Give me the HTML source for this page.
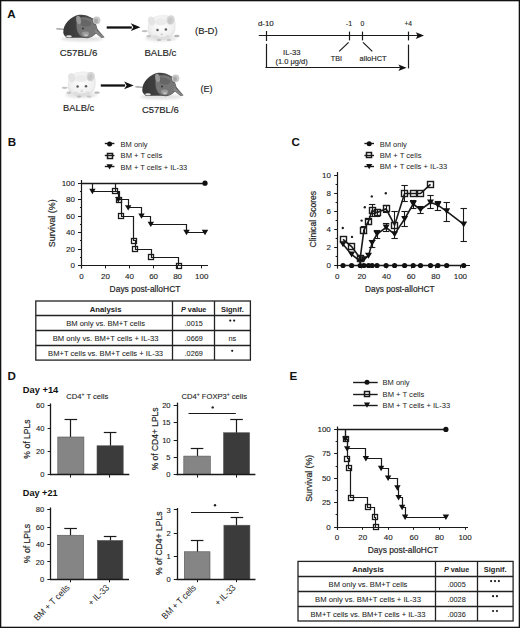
<!DOCTYPE html>
<html><head><meta charset="utf-8"><style>
html,body{margin:0;padding:0;background:#fff;overflow:hidden;}
svg{display:block;font-family:"Liberation Sans", sans-serif;}
text{stroke:#2a2a2a;stroke-width:0px;}
.at{stroke-width:0.2px;}
.tk{stroke-width:0.12px;}
</style></head><body>
<svg width="520" height="628" viewBox="0 0 520 628">
<rect width="520" height="628" fill="#fff"/>
<rect x="0.65" y="0.65" width="518.7" height="626.7" fill="none" stroke="#111" stroke-width="1.3"/>
<text x="7.30" y="18.20" font-size="11.6" fill="#111" font-weight="bold">A</text>
<text x="7.80" y="145.90" font-size="11.6" fill="#111" font-weight="bold">B</text>
<text x="291.50" y="146.30" font-size="11.6" fill="#111" font-weight="bold">C</text>
<text x="7.60" y="379.90" font-size="11.6" fill="#111" font-weight="bold">D</text>
<text x="289.60" y="380.30" font-size="11.6" fill="#111" font-weight="bold">E</text>
<defs>
<filter id="blur1" x="-20%" y="-20%" width="140%" height="140%"><feGaussianBlur stdDeviation="0.5"/></filter>
<filter id="blur2" x="-30%" y="-30%" width="160%" height="160%"><feGaussianBlur stdDeviation="1.2"/></filter>
<linearGradient id="dkb" x1="0" y1="0" x2="1" y2="0"><stop offset="0" stop-color="#353535"/><stop offset="0.45" stop-color="#444"/><stop offset="1" stop-color="#5e5e5e"/></linearGradient>
<radialGradient id="dk" cx="0.45" cy="0.35" r="0.7"><stop offset="0" stop-color="#6a6a6a"/><stop offset="0.6" stop-color="#444"/><stop offset="1" stop-color="#2e2e2e"/></radialGradient>
<radialGradient id="dkh" cx="0.5" cy="0.4" r="0.6"><stop offset="0" stop-color="#7a7a7a"/><stop offset="1" stop-color="#4a4a4a"/></radialGradient>
<radialGradient id="wt" cx="0.5" cy="0.45" r="0.6"><stop offset="0" stop-color="#fdfdfd"/><stop offset="0.7" stop-color="#f0f0f0"/><stop offset="1" stop-color="#dcdcdc"/></radialGradient>
<g id="darkmouse">
  <ellipse cx="26" cy="25" rx="21" ry="2.4" fill="#e2e2e2" filter="url(#blur2)"/>
  <path d="M0.3,14.6 L9,15.6" stroke="#b0b0b0" stroke-width="1.9" filter="url(#blur1)"/>
  <g filter="url(#blur1)">
  <path d="M7.3,19 C7,14 9,10 12,7 C15,4 19,1.5 23,0.8 C28,0.3 32,1.5 35,3.5 L38.5,6.5 C39.5,9 40.5,12 41.6,15.2 L48.5,23.3 L45.5,24 L40,19.5 C37,22.5 34,24 31,24.2 C27,23.8 22,23.5 17,23.8 L12,24 C10,23.3 8.5,22 7.8,20.5 Z" fill="url(#dkb)"/>
  <path d="M21,4.5 C26,2.5 31,2.8 35,5 C38,7.5 40,10.5 41,14 C41,18 38.5,21 35,22.8 C32,24 28,23.8 25,22.2 C22,20 20.5,16 20.5,12 C20.5,8.5 20.5,6 21,4.5 Z" fill="#767676"/>
  <path d="M23,5.5 C27,4.5 32,5.5 35.5,8.5 C35.5,11.5 33,12.5 29.5,12.5 C26,12.5 23.5,10.5 23,5.5 Z" fill="#666"/>
  <ellipse cx="22.6" cy="6" rx="2.3" ry="4.3" fill="#999" transform="rotate(-12 22.6 6)"/>
  <path d="M34,3.5 L39,5 L40.5,10 L38,11 Z" fill="#5e5e5e"/>
  <ellipse cx="40.6" cy="6.3" rx="3.8" ry="3.9" fill="#c8c8c8"/>
  <ellipse cx="40.0" cy="7.0" rx="2.0" ry="2.4" fill="#a8a8a8"/>
  <path d="M39.5,15 L48.5,23.3 L45.5,23.8 L38.5,18 Z" fill="#858585"/>
  <ellipse cx="29.5" cy="19.8" rx="3.6" ry="2.4" fill="#9a9a9a"/>
  <ellipse cx="30" cy="21.2" rx="1.8" ry="1.2" fill="#bdbdbd"/>
  <ellipse cx="27" cy="14.5" rx="1.1" ry="0.9" fill="#3a3a3a"/>
  <path d="M8.5,20.5 L15,22 L11,24.2 Z" fill="#4a4a4a"/>
  <ellipse cx="13" cy="22.4" rx="2.8" ry="1.1" fill="#e4e4e4"/>
  </g>
</g>>>
<g id="whitemouse">
  <ellipse cx="19" cy="24.5" rx="16" ry="3" fill="#e6e6e6" filter="url(#blur2)"/>
  <g filter="url(#blur1)">
  <path d="M5.8,17 C5,10 8,4 14,2 C20,0.2 27,0.5 31,4 C34,7 34,12 33,17 C32,22 27,25.5 19,26 C11,26 6.5,22.5 5.8,17 Z" fill="url(#wt)"/>
  <ellipse cx="9.5" cy="7" rx="3.6" ry="4.6" fill="#e4e4e4" transform="rotate(-15 9.5 7)"/>
  <ellipse cx="28.6" cy="6" rx="4.1" ry="4.8" fill="#d6d6d6" transform="rotate(15 28.6 6)"/>
  <ellipse cx="28.2" cy="6.6" rx="2.4" ry="3.2" fill="#c8c8c8" transform="rotate(15 28.2 6.6)"/>
  <ellipse cx="19" cy="8" rx="6" ry="3.5" fill="#ebebeb"/>
  <ellipse cx="19.5" cy="23" rx="9" ry="3" fill="#dedede"/>
  <ellipse cx="19.5" cy="20.5" rx="5" ry="2.2" fill="#f2f2f2"/>
  <circle cx="15.5" cy="15.9" r="1.25" fill="#5a5a5a"/>
  <circle cx="23.9" cy="15.6" r="1.25" fill="#5a5a5a"/>
  <ellipse cx="19.7" cy="20.5" rx="1.3" ry="0.9" fill="#cfcfcf"/>
  <ellipse cx="2.6" cy="17.2" rx="3" ry="1.1" fill="#c2c2c2"/>
  <ellipse cx="34.8" cy="22" rx="2.8" ry="1.2" fill="#b6b6b6"/>
  <ellipse cx="6.8" cy="22.2" rx="2.4" ry="1.2" fill="#c4c4c4"/>
  <ellipse cx="17" cy="26" rx="2.4" ry="1.1" fill="#bdbdbd"/>
  <ellipse cx="27" cy="26" rx="2.4" ry="1.1" fill="#c6c6c6"/>
  </g>
</g>
</defs>
<use href="#darkmouse" x="56" y="14"/>
<use href="#whitemouse" x="142" y="14"/>
<use href="#whitemouse" x="62.1" y="70.6"/>
<use href="#darkmouse" x="135" y="72"/>
<line x1="106.70" y1="27.50" x2="131.80" y2="27.50" stroke="#111" stroke-width="2.3"/>
<path d="M130.80,23.30 L140.40,27.20 L130.80,31.10 L133.30,27.20 Z" fill="#111"/>
<line x1="100.80" y1="85.50" x2="125.10" y2="85.50" stroke="#111" stroke-width="2.3"/>
<path d="M124.10,81.50 L133.70,85.40 L124.10,89.30 L126.60,85.40 Z" fill="#111"/>
<text x="59.80" y="56.30" font-size="8.8" fill="#222" textLength="37.5" lengthAdjust="spacingAndGlyphs" style="stroke-width:0.14px">C57BL/6</text>
<text x="144.40" y="56.30" font-size="8.8" fill="#222" textLength="32" lengthAdjust="spacingAndGlyphs" style="stroke-width:0.14px">BALB/c</text>
<text x="195.00" y="34.20" font-size="8.8" fill="#222" textLength="22.6" lengthAdjust="spacingAndGlyphs" style="stroke-width:0.14px">(B-D)</text>
<text x="63.00" y="111.30" font-size="8.8" fill="#222" textLength="31.2" lengthAdjust="spacingAndGlyphs" style="stroke-width:0.14px">BALB/c</text>
<text x="141.90" y="113.10" font-size="8.8" fill="#222" textLength="36.9" lengthAdjust="spacingAndGlyphs" style="stroke-width:0.14px">C57BL/6</text>
<text x="200.40" y="92.00" font-size="8.8" fill="#222" textLength="12.3" lengthAdjust="spacingAndGlyphs" style="stroke-width:0.14px">(E)</text>
<line x1="258.80" y1="35.50" x2="418.00" y2="35.50" stroke="#1a1a1a" stroke-width="1.2"/>
<path d="M415.8,32.2 L424.0,35.6 L415.8,39.0 L417.6,35.6 Z" fill="#111"/>
<line x1="266.50" y1="31.00" x2="266.50" y2="41.00" stroke="#1a1a1a" stroke-width="1.2"/>
<line x1="349.50" y1="31.60" x2="349.50" y2="40.40" stroke="#1a1a1a" stroke-width="1.2"/>
<line x1="362.50" y1="31.60" x2="362.50" y2="40.40" stroke="#1a1a1a" stroke-width="1.2"/>
<line x1="408.50" y1="31.60" x2="408.50" y2="40.40" stroke="#1a1a1a" stroke-width="1.2"/>
<line x1="266.50" y1="43.80" x2="266.50" y2="67.90" stroke="#1a1a1a" stroke-width="1.2"/>
<line x1="265.40" y1="67.50" x2="400.00" y2="67.50" stroke="#1a1a1a" stroke-width="1.2"/>
<path d="M398.4,64.5 L406.6,67.7 L398.4,70.9 L400.2,67.7 Z" fill="#111"/>
<line x1="408.50" y1="44.60" x2="408.50" y2="68.40" stroke="#1a1a1a" stroke-width="1.2"/>
<line x1="348.60" y1="42.40" x2="339.20" y2="51.40" stroke="#1a1a1a" stroke-width="1.2"/>
<line x1="363.00" y1="42.40" x2="372.30" y2="51.40" stroke="#1a1a1a" stroke-width="1.2"/>
<text x="257.90" y="26.20" font-size="7.6" fill="#222" textLength="15.9" lengthAdjust="spacingAndGlyphs" style="stroke-width:0.14px">d-10</text>
<text x="345.80" y="26.20" font-size="7.6" fill="#222" textLength="6.4" lengthAdjust="spacingAndGlyphs" style="stroke-width:0.14px">-1</text>
<text x="360.60" y="26.20" font-size="7.6" fill="#222" textLength="3.8" lengthAdjust="spacingAndGlyphs" style="stroke-width:0.14px">0</text>
<text x="404.40" y="26.20" font-size="7.6" fill="#222" textLength="7.6" lengthAdjust="spacingAndGlyphs" style="stroke-width:0.14px">+4</text>
<text x="283.10" y="55.10" font-size="7.6" fill="#222" textLength="17.4" lengthAdjust="spacingAndGlyphs" style="stroke-width:0.14px">IL-33</text>
<text x="275.40" y="63.50" font-size="7.6" fill="#222" textLength="32.3" lengthAdjust="spacingAndGlyphs" style="stroke-width:0.14px">(1.0 μg/d)</text>
<text x="330.80" y="61.20" font-size="7.6" fill="#222" textLength="11.2" lengthAdjust="spacingAndGlyphs" style="stroke-width:0.14px">TBI</text>
<text x="359.60" y="61.20" font-size="7.6" fill="#222" textLength="27.1" lengthAdjust="spacingAndGlyphs" style="stroke-width:0.14px">alloHCT</text>
<line x1="104.80" y1="143.50" x2="114.40" y2="143.50" stroke="#1a1a1a" stroke-width="1.4"/>
<circle cx="109.60" cy="143.90" r="2.5" fill="#111"/>
<text x="120.60" y="146.70" font-size="7.6" fill="#222" textLength="27.0" lengthAdjust="spacingAndGlyphs">BM only</text>
<line x1="104.80" y1="155.50" x2="114.40" y2="155.50" stroke="#1a1a1a" stroke-width="1.4"/>
<rect x="107.50" y="153.50" width="5.0" height="5.0" fill="none" stroke="#1a1a1a" stroke-width="1.5"/>
<text x="120.60" y="158.40" font-size="7.6" fill="#222" textLength="41.7" lengthAdjust="spacingAndGlyphs">BM + T cells</text>
<line x1="104.80" y1="166.50" x2="114.40" y2="166.50" stroke="#1a1a1a" stroke-width="1.4"/>
<path d="M106.50,164.27 L112.70,164.27 L109.60,169.53 Z" fill="#111"/>
<text x="120.60" y="169.70" font-size="7.6" fill="#222" textLength="66.7" lengthAdjust="spacingAndGlyphs">BM + T cells + IL-33</text>
<line x1="81.50" y1="180.00" x2="81.50" y2="268.40" stroke="#1a1a1a" stroke-width="1.2"/>
<line x1="80.90" y1="265.50" x2="208.00" y2="265.50" stroke="#1a1a1a" stroke-width="1.2"/>
<line x1="78.00" y1="265.50" x2="81.50" y2="265.50" stroke="#1a1a1a" stroke-width="1.0"/>
<line x1="80.00" y1="257.50" x2="81.50" y2="257.50" stroke="#1a1a1a" stroke-width="1.0"/>
<line x1="78.00" y1="249.50" x2="81.50" y2="249.50" stroke="#1a1a1a" stroke-width="1.0"/>
<line x1="80.00" y1="240.50" x2="81.50" y2="240.50" stroke="#1a1a1a" stroke-width="1.0"/>
<line x1="78.00" y1="232.50" x2="81.50" y2="232.50" stroke="#1a1a1a" stroke-width="1.0"/>
<line x1="80.00" y1="224.50" x2="81.50" y2="224.50" stroke="#1a1a1a" stroke-width="1.0"/>
<line x1="78.00" y1="216.50" x2="81.50" y2="216.50" stroke="#1a1a1a" stroke-width="1.0"/>
<line x1="80.00" y1="207.50" x2="81.50" y2="207.50" stroke="#1a1a1a" stroke-width="1.0"/>
<line x1="78.00" y1="199.50" x2="81.50" y2="199.50" stroke="#1a1a1a" stroke-width="1.0"/>
<line x1="80.00" y1="191.50" x2="81.50" y2="191.50" stroke="#1a1a1a" stroke-width="1.0"/>
<line x1="78.00" y1="183.50" x2="81.50" y2="183.50" stroke="#1a1a1a" stroke-width="1.0"/>
<line x1="81.50" y1="265.50" x2="81.50" y2="268.40" stroke="#1a1a1a" stroke-width="1.0"/>
<line x1="105.50" y1="265.50" x2="105.50" y2="268.40" stroke="#1a1a1a" stroke-width="1.0"/>
<line x1="129.50" y1="265.50" x2="129.50" y2="268.40" stroke="#1a1a1a" stroke-width="1.0"/>
<line x1="153.50" y1="265.50" x2="153.50" y2="268.40" stroke="#1a1a1a" stroke-width="1.0"/>
<line x1="177.50" y1="265.50" x2="177.50" y2="268.40" stroke="#1a1a1a" stroke-width="1.0"/>
<line x1="201.50" y1="265.50" x2="201.50" y2="268.40" stroke="#1a1a1a" stroke-width="1.0"/>
<text x="75.00" y="268.00" font-size="8.0" fill="#222" class="tk" text-anchor="end">0</text>
<text x="75.00" y="251.54" font-size="8.0" fill="#222" class="tk" text-anchor="end">20</text>
<text x="75.00" y="235.08" font-size="8.0" fill="#222" class="tk" text-anchor="end">40</text>
<text x="75.00" y="218.62" font-size="8.0" fill="#222" class="tk" text-anchor="end">60</text>
<text x="75.00" y="202.16" font-size="8.0" fill="#222" class="tk" text-anchor="end">80</text>
<text x="75.00" y="185.70" font-size="8.0" fill="#222" class="tk" text-anchor="end">100</text>
<text x="81.40" y="279.20" font-size="8.0" fill="#222" class="tk" text-anchor="middle">0</text>
<text x="105.46" y="279.20" font-size="8.0" fill="#222" class="tk" text-anchor="middle">20</text>
<text x="129.52" y="279.20" font-size="8.0" fill="#222" class="tk" text-anchor="middle">40</text>
<text x="153.58" y="279.20" font-size="8.0" fill="#222" class="tk" text-anchor="middle">60</text>
<text x="177.64" y="279.20" font-size="8.0" fill="#222" class="tk" text-anchor="middle">80</text>
<text x="201.70" y="279.20" font-size="8.0" fill="#222" class="tk" text-anchor="middle">100</text>
<text x="145.00" y="292.00" font-size="9.3" fill="#222" class="at" text-anchor="middle" textLength="70.8" lengthAdjust="spacingAndGlyphs">Days post-alloHCT</text>
<text x="54.70" y="223.30" font-size="9.3" fill="#222" class="at" text-anchor="middle" textLength="47.8" lengthAdjust="spacingAndGlyphs" transform="rotate(-90 54.70 223.30)">Survival (%)</text>
<path d="M81.5,183.50 L205.0,183.50" stroke="#1a1a1a" stroke-width="1.3" fill="none"/>
<circle cx="205.00" cy="183.20" r="2.6" fill="#111"/>
<path d="M81.50,183.50 L92.50,183.50 L92.50,191.50 L118.50,191.50 L118.50,199.50 L128.50,199.50 L128.50,207.50 L141.50,207.50 L141.50,216.50 L150.50,216.50 L150.50,224.50 L186.50,224.50 L186.50,232.50 L205.00,232.50" stroke="#1a1a1a" stroke-width="1.2" fill="none"/>
<path d="M81.50,183.50 L115.50,183.50 L115.50,191.50 L119.50,191.50 L119.50,199.50 L121.50,199.50 L121.50,216.50 L133.50,216.50 L133.50,240.50 L135.50,240.50 L135.50,249.50 L151.50,249.50 L151.50,257.50 L178.50,257.50 L178.50,265.50" stroke="#1a1a1a" stroke-width="1.2" fill="none"/>
<path d="M89.20,188.71 L95.60,188.71 L92.40,194.15 Z" fill="#111"/>
<path d="M115.10,196.94 L121.50,196.94 L118.30,202.38 Z" fill="#111"/>
<path d="M125.00,205.17 L131.40,205.17 L128.20,210.61 Z" fill="#111"/>
<path d="M138.30,213.40 L144.70,213.40 L141.50,218.84 Z" fill="#111"/>
<path d="M147.60,221.63 L154.00,221.63 L150.80,227.07 Z" fill="#111"/>
<path d="M183.30,229.86 L189.70,229.86 L186.50,235.30 Z" fill="#111"/>
<path d="M201.80,229.86 L208.20,229.86 L205.00,235.30 Z" fill="#111"/>
<rect x="112.50" y="188.50" width="5.0" height="5.0" fill="none" stroke="#1a1a1a" stroke-width="1.3"/>
<rect x="116.50" y="197.50" width="5.0" height="5.0" fill="none" stroke="#1a1a1a" stroke-width="1.3"/>
<rect x="118.50" y="213.50" width="5.0" height="5.0" fill="none" stroke="#1a1a1a" stroke-width="1.3"/>
<rect x="131.50" y="238.50" width="5.0" height="5.0" fill="none" stroke="#1a1a1a" stroke-width="1.3"/>
<rect x="132.50" y="246.50" width="5.0" height="5.0" fill="none" stroke="#1a1a1a" stroke-width="1.3"/>
<rect x="148.50" y="254.50" width="5.0" height="5.0" fill="none" stroke="#1a1a1a" stroke-width="1.3"/>
<rect x="176.50" y="263.50" width="5.0" height="5.0" fill="none" stroke="#1a1a1a" stroke-width="1.3"/>
<rect x="35.80" y="301.00" width="214.60" height="59.10" fill="none" stroke="#222" stroke-width="1.3"/>
<line x1="35.80" y1="315.50" x2="250.40" y2="315.50" stroke="#222" stroke-width="1.3"/>
<line x1="35.80" y1="330.50" x2="250.40" y2="330.50" stroke="#222" stroke-width="1.3"/>
<line x1="35.80" y1="345.50" x2="250.40" y2="345.50" stroke="#222" stroke-width="1.3"/>
<line x1="172.50" y1="301.00" x2="172.50" y2="360.10" stroke="#222" stroke-width="1.3"/>
<line x1="214.50" y1="301.00" x2="214.50" y2="360.10" stroke="#222" stroke-width="1.3"/>
<text x="105.60" y="311.80" font-size="7.4" fill="#222" text-anchor="middle" font-weight="bold" textLength="31.7" lengthAdjust="spacingAndGlyphs">Analysis</text>
<text x="193.70" y="311.80" font-size="7.4" text-anchor="middle" font-weight="bold" fill="#222" textLength="25.4" lengthAdjust="spacingAndGlyphs"><tspan font-style="italic">P</tspan> value</text>
<text x="232.40" y="311.80" font-size="7.4" fill="#222" text-anchor="middle" font-weight="bold" textLength="22.8" lengthAdjust="spacingAndGlyphs">Signif.</text>
<text x="105.60" y="326.10" font-size="7.4" fill="#222" text-anchor="middle" textLength="78.8" lengthAdjust="spacingAndGlyphs" style="stroke-width:0.06px">BM only vs. BM+T cells</text>
<text x="193.70" y="326.10" font-size="7.4" fill="#222" text-anchor="middle" textLength="18.2" lengthAdjust="spacingAndGlyphs" style="stroke-width:0.06px">.0015</text>
<circle cx="230.25" cy="320.60" r="1.1" fill="#1a1a1a"/>
<circle cx="234.15" cy="320.60" r="1.1" fill="#1a1a1a"/>
<text x="105.60" y="340.80" font-size="7.4" fill="#222" text-anchor="middle" textLength="105.8" lengthAdjust="spacingAndGlyphs" style="stroke-width:0.06px">BM only vs. BM+T cells + IL-33</text>
<text x="193.70" y="340.80" font-size="7.4" fill="#222" text-anchor="middle" textLength="18.2" lengthAdjust="spacingAndGlyphs" style="stroke-width:0.06px">.0669</text>
<text x="232.40" y="340.80" font-size="7.4" fill="#222" text-anchor="middle" style="stroke-width:0.06px">ns</text>
<text x="105.60" y="355.60" font-size="7.4" fill="#222" text-anchor="middle" textLength="115.0" lengthAdjust="spacingAndGlyphs" style="stroke-width:0.06px">BM+T cells vs. BM+T cells + IL-33</text>
<text x="193.70" y="355.60" font-size="7.4" fill="#222" text-anchor="middle" textLength="18.2" lengthAdjust="spacingAndGlyphs" style="stroke-width:0.06px">.0269</text>
<circle cx="232.20" cy="350.80" r="1.1" fill="#1a1a1a"/>
<line x1="364.40" y1="143.50" x2="374.00" y2="143.50" stroke="#1a1a1a" stroke-width="1.4"/>
<circle cx="369.20" cy="143.70" r="2.5" fill="#111"/>
<text x="379.80" y="146.50" font-size="7.6" fill="#222" textLength="27.0" lengthAdjust="spacingAndGlyphs">BM only</text>
<line x1="364.40" y1="155.50" x2="374.00" y2="155.50" stroke="#1a1a1a" stroke-width="1.4"/>
<rect x="366.50" y="152.50" width="5.0" height="5.0" fill="none" stroke="#1a1a1a" stroke-width="1.5"/>
<text x="379.80" y="158.10" font-size="7.6" fill="#222" textLength="41.7" lengthAdjust="spacingAndGlyphs">BM + T cells</text>
<line x1="364.40" y1="166.50" x2="374.00" y2="166.50" stroke="#1a1a1a" stroke-width="1.4"/>
<path d="M366.10,163.97 L372.30,163.97 L369.20,169.23 Z" fill="#111"/>
<text x="379.80" y="169.40" font-size="7.6" fill="#222" textLength="67.5" lengthAdjust="spacingAndGlyphs">BM + T cells + IL-33</text>
<line x1="337.50" y1="172.00" x2="337.50" y2="268.40" stroke="#1a1a1a" stroke-width="1.2"/>
<line x1="336.90" y1="265.50" x2="470.00" y2="265.50" stroke="#1a1a1a" stroke-width="1.2"/>
<line x1="334.20" y1="265.50" x2="337.50" y2="265.50" stroke="#1a1a1a" stroke-width="1.0"/>
<line x1="335.60" y1="256.50" x2="337.50" y2="256.50" stroke="#1a1a1a" stroke-width="1.0"/>
<line x1="334.20" y1="247.50" x2="337.50" y2="247.50" stroke="#1a1a1a" stroke-width="1.0"/>
<line x1="335.60" y1="238.50" x2="337.50" y2="238.50" stroke="#1a1a1a" stroke-width="1.0"/>
<line x1="334.20" y1="229.50" x2="337.50" y2="229.50" stroke="#1a1a1a" stroke-width="1.0"/>
<line x1="335.60" y1="220.50" x2="337.50" y2="220.50" stroke="#1a1a1a" stroke-width="1.0"/>
<line x1="334.20" y1="211.50" x2="337.50" y2="211.50" stroke="#1a1a1a" stroke-width="1.0"/>
<line x1="335.60" y1="202.50" x2="337.50" y2="202.50" stroke="#1a1a1a" stroke-width="1.0"/>
<line x1="334.20" y1="193.50" x2="337.50" y2="193.50" stroke="#1a1a1a" stroke-width="1.0"/>
<line x1="335.60" y1="184.50" x2="337.50" y2="184.50" stroke="#1a1a1a" stroke-width="1.0"/>
<line x1="334.20" y1="175.50" x2="337.50" y2="175.50" stroke="#1a1a1a" stroke-width="1.0"/>
<line x1="337.50" y1="265.50" x2="337.50" y2="268.40" stroke="#1a1a1a" stroke-width="1.0"/>
<line x1="361.50" y1="265.50" x2="361.50" y2="268.40" stroke="#1a1a1a" stroke-width="1.0"/>
<line x1="386.50" y1="265.50" x2="386.50" y2="268.40" stroke="#1a1a1a" stroke-width="1.0"/>
<line x1="411.50" y1="265.50" x2="411.50" y2="268.40" stroke="#1a1a1a" stroke-width="1.0"/>
<line x1="435.50" y1="265.50" x2="435.50" y2="268.40" stroke="#1a1a1a" stroke-width="1.0"/>
<line x1="460.50" y1="265.50" x2="460.50" y2="268.40" stroke="#1a1a1a" stroke-width="1.0"/>
<text x="331.00" y="268.00" font-size="8.0" fill="#222" class="tk" text-anchor="end">0</text>
<text x="331.00" y="249.96" font-size="8.0" fill="#222" class="tk" text-anchor="end">2</text>
<text x="331.00" y="231.92" font-size="8.0" fill="#222" class="tk" text-anchor="end">4</text>
<text x="331.00" y="213.88" font-size="8.0" fill="#222" class="tk" text-anchor="end">6</text>
<text x="331.00" y="195.84" font-size="8.0" fill="#222" class="tk" text-anchor="end">8</text>
<text x="331.00" y="177.80" font-size="8.0" fill="#222" class="tk" text-anchor="end">10</text>
<text x="337.20" y="279.20" font-size="8.0" fill="#222" class="tk" text-anchor="middle">0</text>
<text x="361.84" y="279.20" font-size="8.0" fill="#222" class="tk" text-anchor="middle">20</text>
<text x="386.48" y="279.20" font-size="8.0" fill="#222" class="tk" text-anchor="middle">40</text>
<text x="411.12" y="279.20" font-size="8.0" fill="#222" class="tk" text-anchor="middle">60</text>
<text x="435.76" y="279.20" font-size="8.0" fill="#222" class="tk" text-anchor="middle">80</text>
<text x="460.40" y="279.20" font-size="8.0" fill="#222" class="tk" text-anchor="middle">100</text>
<text x="399.80" y="292.00" font-size="9.3" fill="#222" class="at" text-anchor="middle" textLength="69.4" lengthAdjust="spacingAndGlyphs">Days post-alloHCT</text>
<text x="315.60" y="219.20" font-size="9.3" fill="#222" class="at" text-anchor="middle" textLength="56.7" lengthAdjust="spacingAndGlyphs" transform="rotate(-90 315.60 219.20)">Clinical Scores</text>
<line x1="372.50" y1="204.60" x2="372.50" y2="216.00" stroke="#1a1a1a" stroke-width="1.1"/>
<line x1="368.90" y1="204.50" x2="375.30" y2="204.50" stroke="#1a1a1a" stroke-width="1.1"/>
<line x1="368.90" y1="216.50" x2="375.30" y2="216.50" stroke="#1a1a1a" stroke-width="1.1"/>
<line x1="404.50" y1="185.00" x2="404.50" y2="201.50" stroke="#1a1a1a" stroke-width="1.1"/>
<line x1="401.40" y1="185.50" x2="407.80" y2="185.50" stroke="#1a1a1a" stroke-width="1.1"/>
<line x1="401.40" y1="201.50" x2="407.80" y2="201.50" stroke="#1a1a1a" stroke-width="1.1"/>
<line x1="394.50" y1="211.30" x2="394.50" y2="238.30" stroke="#1a1a1a" stroke-width="1.1"/>
<line x1="391.40" y1="211.50" x2="397.80" y2="211.50" stroke="#1a1a1a" stroke-width="1.1"/>
<line x1="391.40" y1="238.50" x2="397.80" y2="238.50" stroke="#1a1a1a" stroke-width="1.1"/>
<line x1="404.50" y1="211.30" x2="404.50" y2="226.70" stroke="#1a1a1a" stroke-width="1.1"/>
<line x1="401.40" y1="211.50" x2="407.80" y2="211.50" stroke="#1a1a1a" stroke-width="1.1"/>
<line x1="401.40" y1="226.50" x2="407.80" y2="226.50" stroke="#1a1a1a" stroke-width="1.1"/>
<line x1="413.50" y1="200.50" x2="413.50" y2="208.20" stroke="#1a1a1a" stroke-width="1.1"/>
<line x1="410.00" y1="200.50" x2="416.40" y2="200.50" stroke="#1a1a1a" stroke-width="1.1"/>
<line x1="410.00" y1="208.50" x2="416.40" y2="208.50" stroke="#1a1a1a" stroke-width="1.1"/>
<line x1="420.50" y1="206.60" x2="420.50" y2="213.00" stroke="#1a1a1a" stroke-width="1.1"/>
<line x1="417.30" y1="206.50" x2="423.70" y2="206.50" stroke="#1a1a1a" stroke-width="1.1"/>
<line x1="417.30" y1="213.50" x2="423.70" y2="213.50" stroke="#1a1a1a" stroke-width="1.1"/>
<line x1="430.50" y1="195.80" x2="430.50" y2="208.80" stroke="#1a1a1a" stroke-width="1.1"/>
<line x1="427.30" y1="195.50" x2="433.70" y2="195.50" stroke="#1a1a1a" stroke-width="1.1"/>
<line x1="427.30" y1="208.50" x2="433.70" y2="208.50" stroke="#1a1a1a" stroke-width="1.1"/>
<line x1="437.50" y1="201.20" x2="437.50" y2="210.60" stroke="#1a1a1a" stroke-width="1.1"/>
<line x1="434.70" y1="201.50" x2="441.10" y2="201.50" stroke="#1a1a1a" stroke-width="1.1"/>
<line x1="434.70" y1="210.50" x2="441.10" y2="210.50" stroke="#1a1a1a" stroke-width="1.1"/>
<line x1="446.50" y1="202.00" x2="446.50" y2="221.00" stroke="#1a1a1a" stroke-width="1.1"/>
<line x1="443.50" y1="202.50" x2="449.90" y2="202.50" stroke="#1a1a1a" stroke-width="1.1"/>
<line x1="443.50" y1="221.50" x2="449.90" y2="221.50" stroke="#1a1a1a" stroke-width="1.1"/>
<line x1="463.50" y1="208.20" x2="463.50" y2="241.40" stroke="#1a1a1a" stroke-width="1.1"/>
<line x1="460.50" y1="208.50" x2="466.90" y2="208.50" stroke="#1a1a1a" stroke-width="1.1"/>
<line x1="460.50" y1="241.50" x2="466.90" y2="241.50" stroke="#1a1a1a" stroke-width="1.1"/>
<line x1="372.50" y1="240.00" x2="372.50" y2="247.40" stroke="#1a1a1a" stroke-width="1.1"/>
<line x1="368.90" y1="240.50" x2="375.30" y2="240.50" stroke="#1a1a1a" stroke-width="1.1"/>
<line x1="368.90" y1="247.50" x2="375.30" y2="247.50" stroke="#1a1a1a" stroke-width="1.1"/>
<line x1="377.50" y1="230.00" x2="377.50" y2="238.50" stroke="#1a1a1a" stroke-width="1.1"/>
<line x1="373.80" y1="230.50" x2="380.20" y2="230.50" stroke="#1a1a1a" stroke-width="1.1"/>
<line x1="373.80" y1="238.50" x2="380.20" y2="238.50" stroke="#1a1a1a" stroke-width="1.1"/>
<line x1="386.50" y1="223.00" x2="386.50" y2="231.50" stroke="#1a1a1a" stroke-width="1.1"/>
<line x1="382.90" y1="223.50" x2="389.30" y2="223.50" stroke="#1a1a1a" stroke-width="1.1"/>
<line x1="382.90" y1="231.50" x2="389.30" y2="231.50" stroke="#1a1a1a" stroke-width="1.1"/>
<line x1="364.50" y1="226.00" x2="364.50" y2="233.00" stroke="#1a1a1a" stroke-width="1.1"/>
<line x1="360.80" y1="226.50" x2="367.20" y2="226.50" stroke="#1a1a1a" stroke-width="1.1"/>
<line x1="360.80" y1="233.50" x2="367.20" y2="233.50" stroke="#1a1a1a" stroke-width="1.1"/>
<line x1="368.50" y1="219.00" x2="368.50" y2="224.00" stroke="#1a1a1a" stroke-width="1.1"/>
<line x1="365.30" y1="219.50" x2="371.70" y2="219.50" stroke="#1a1a1a" stroke-width="1.1"/>
<line x1="365.30" y1="224.50" x2="371.70" y2="224.50" stroke="#1a1a1a" stroke-width="1.1"/>
<line x1="377.50" y1="209.00" x2="377.50" y2="216.00" stroke="#1a1a1a" stroke-width="1.1"/>
<line x1="373.80" y1="209.50" x2="380.20" y2="209.50" stroke="#1a1a1a" stroke-width="1.1"/>
<line x1="373.80" y1="216.50" x2="380.20" y2="216.50" stroke="#1a1a1a" stroke-width="1.1"/>
<line x1="386.50" y1="205.00" x2="386.50" y2="212.00" stroke="#1a1a1a" stroke-width="1.1"/>
<line x1="382.90" y1="205.50" x2="389.30" y2="205.50" stroke="#1a1a1a" stroke-width="1.1"/>
<line x1="382.90" y1="212.50" x2="389.30" y2="212.50" stroke="#1a1a1a" stroke-width="1.1"/>
<path d="M343.00,265.50 L351.60,265.50 L360.20,265.50 L363.90,265.50 L368.50,265.50 L372.10,265.50 L377.00,265.50 L386.10,265.50 L394.60,265.50 L404.60,265.50 L413.20,265.50 L420.50,265.50 L430.50,265.50 L437.90,265.50 L446.70,265.50 L463.70,265.50" stroke="#1a1a1a" stroke-width="1.5" fill="none"/>
<path d="M343.00,239.30 L351.60,246.60 L360.20,258.30 L363.90,230.10 L368.50,221.20 L372.10,210.50 L377.00,212.60 L386.10,208.80 L394.60,225.20 L404.60,193.50 L413.20,193.50 L420.50,193.50 L430.50,184.30" stroke="#1a1a1a" stroke-width="1.6" fill="none"/>
<path d="M343.00,244.20 L351.60,254.40 L360.20,261.20 L363.90,259.30 L368.50,255.70 L372.10,243.00 L377.00,234.00 L386.10,227.60 L394.60,234.20 L404.60,219.00 L413.20,204.00 L420.50,209.70 L430.50,202.50 L437.90,205.10 L446.70,211.30 L463.70,224.40" stroke="#1a1a1a" stroke-width="1.6" fill="none"/>
<circle cx="343.00" cy="265.50" r="2.6" fill="#111"/>
<circle cx="351.60" cy="265.50" r="2.6" fill="#111"/>
<circle cx="360.20" cy="265.50" r="2.6" fill="#111"/>
<circle cx="363.90" cy="265.50" r="2.6" fill="#111"/>
<circle cx="368.50" cy="265.50" r="2.6" fill="#111"/>
<circle cx="372.10" cy="265.50" r="2.6" fill="#111"/>
<circle cx="377.00" cy="265.50" r="2.6" fill="#111"/>
<circle cx="386.10" cy="265.50" r="2.6" fill="#111"/>
<circle cx="394.60" cy="265.50" r="2.6" fill="#111"/>
<circle cx="404.60" cy="265.50" r="2.6" fill="#111"/>
<circle cx="413.20" cy="265.50" r="2.6" fill="#111"/>
<circle cx="420.50" cy="265.50" r="2.6" fill="#111"/>
<circle cx="430.50" cy="265.50" r="2.6" fill="#111"/>
<circle cx="437.90" cy="265.50" r="2.6" fill="#111"/>
<circle cx="446.70" cy="265.50" r="2.6" fill="#111"/>
<circle cx="463.70" cy="265.50" r="2.6" fill="#111"/>
<path d="M339.50,241.22 L346.50,241.22 L343.00,247.17 Z" fill="#111"/>
<path d="M348.10,251.43 L355.10,251.43 L351.60,257.38 Z" fill="#111"/>
<path d="M356.70,258.22 L363.70,258.22 L360.20,264.18 Z" fill="#111"/>
<path d="M360.40,256.32 L367.40,256.32 L363.90,262.28 Z" fill="#111"/>
<path d="M365.00,252.72 L372.00,252.72 L368.50,258.68 Z" fill="#111"/>
<path d="M368.60,240.03 L375.60,240.03 L372.10,245.97 Z" fill="#111"/>
<path d="M373.50,231.03 L380.50,231.03 L377.00,236.97 Z" fill="#111"/>
<path d="M382.60,224.62 L389.60,224.62 L386.10,230.57 Z" fill="#111"/>
<path d="M391.10,231.22 L398.10,231.22 L394.60,237.17 Z" fill="#111"/>
<path d="M401.10,216.03 L408.10,216.03 L404.60,221.97 Z" fill="#111"/>
<path d="M409.70,201.03 L416.70,201.03 L413.20,206.97 Z" fill="#111"/>
<path d="M417.00,206.72 L424.00,206.72 L420.50,212.67 Z" fill="#111"/>
<path d="M427.00,199.53 L434.00,199.53 L430.50,205.47 Z" fill="#111"/>
<path d="M434.40,202.12 L441.40,202.12 L437.90,208.07 Z" fill="#111"/>
<path d="M443.20,208.33 L450.20,208.33 L446.70,214.28 Z" fill="#111"/>
<path d="M460.20,221.43 L467.20,221.43 L463.70,227.38 Z" fill="#111"/>
<rect x="340.50" y="236.50" width="6.0" height="6.0" fill="none" stroke="#1a1a1a" stroke-width="1.4"/>
<rect x="348.50" y="243.50" width="6.0" height="6.0" fill="none" stroke="#1a1a1a" stroke-width="1.4"/>
<rect x="357.50" y="255.50" width="6.0" height="6.0" fill="none" stroke="#1a1a1a" stroke-width="1.4"/>
<rect x="360.50" y="227.50" width="6.0" height="6.0" fill="none" stroke="#1a1a1a" stroke-width="1.4"/>
<rect x="365.50" y="218.50" width="6.0" height="6.0" fill="none" stroke="#1a1a1a" stroke-width="1.4"/>
<rect x="369.50" y="207.50" width="6.0" height="6.0" fill="none" stroke="#1a1a1a" stroke-width="1.4"/>
<rect x="374.50" y="209.50" width="6.0" height="6.0" fill="none" stroke="#1a1a1a" stroke-width="1.4"/>
<rect x="383.50" y="205.50" width="6.0" height="6.0" fill="none" stroke="#1a1a1a" stroke-width="1.4"/>
<rect x="391.50" y="222.50" width="6.0" height="6.0" fill="none" stroke="#1a1a1a" stroke-width="1.4"/>
<rect x="401.50" y="190.50" width="6.0" height="6.0" fill="none" stroke="#1a1a1a" stroke-width="1.4"/>
<rect x="410.50" y="190.50" width="6.0" height="6.0" fill="none" stroke="#1a1a1a" stroke-width="1.4"/>
<rect x="417.50" y="190.50" width="6.0" height="6.0" fill="none" stroke="#1a1a1a" stroke-width="1.4"/>
<rect x="427.50" y="181.50" width="6.0" height="6.0" fill="none" stroke="#1a1a1a" stroke-width="1.4"/>
<circle cx="342.80" cy="228.00" r="1.2" fill="#222"/>
<circle cx="352.00" cy="236.90" r="1.2" fill="#222"/>
<circle cx="361.60" cy="220.60" r="1.2" fill="#222"/>
<circle cx="364.80" cy="207.20" r="1.2" fill="#222"/>
<circle cx="371.80" cy="196.40" r="1.2" fill="#222"/>
<circle cx="385.80" cy="193.20" r="1.2" fill="#222"/>
<line x1="70.50" y1="419.24" x2="70.50" y2="437.50" stroke="#1a1a1a" stroke-width="1.2"/>
<line x1="64.55" y1="419.50" x2="77.15" y2="419.50" stroke="#1a1a1a" stroke-width="1.2"/>
<rect x="57.80" y="437.00" width="26.10" height="37.60" fill="#858585" stroke="#555" stroke-width="0.6"/>
<line x1="110.50" y1="432.62" x2="110.50" y2="446.27" stroke="#1a1a1a" stroke-width="1.2"/>
<line x1="103.80" y1="432.50" x2="116.40" y2="432.50" stroke="#1a1a1a" stroke-width="1.2"/>
<rect x="97.00" y="445.77" width="26.20" height="28.83" fill="#3b3b3b" stroke="#555" stroke-width="0.6"/>
<line x1="50.50" y1="403.50" x2="50.50" y2="475.20" stroke="#1a1a1a" stroke-width="1.3"/>
<line x1="50.30" y1="474.50" x2="129.30" y2="474.50" stroke="#1a1a1a" stroke-width="1.3"/>
<line x1="47.60" y1="474.50" x2="50.90" y2="474.50" stroke="#1a1a1a" stroke-width="1.0"/>
<text x="44.50" y="477.20" font-size="7.6" fill="#222" class="tk" text-anchor="end">0</text>
<line x1="47.60" y1="451.50" x2="50.90" y2="451.50" stroke="#1a1a1a" stroke-width="1.0"/>
<text x="44.50" y="454.13" font-size="7.6" fill="#222" class="tk" text-anchor="end">20</text>
<line x1="47.60" y1="428.50" x2="50.90" y2="428.50" stroke="#1a1a1a" stroke-width="1.0"/>
<text x="44.50" y="431.07" font-size="7.6" fill="#222" class="tk" text-anchor="end">40</text>
<line x1="47.60" y1="405.50" x2="50.90" y2="405.50" stroke="#1a1a1a" stroke-width="1.0"/>
<text x="44.50" y="408.00" font-size="7.6" fill="#222" class="tk" text-anchor="end">60</text>
<line x1="70.50" y1="474.60" x2="70.50" y2="477.60" stroke="#1a1a1a" stroke-width="1.0"/>
<line x1="109.50" y1="474.60" x2="109.50" y2="477.60" stroke="#1a1a1a" stroke-width="1.0"/>
<text x="30.00" y="439.00" font-size="8.6" fill="#222" class="at" text-anchor="middle" textLength="39.3" lengthAdjust="spacingAndGlyphs" transform="rotate(-90 30.00 439.00)">% of LPLs</text>
<line x1="197.50" y1="448.13" x2="197.50" y2="456.59" stroke="#1a1a1a" stroke-width="1.2"/>
<line x1="190.75" y1="448.50" x2="203.35" y2="448.50" stroke="#1a1a1a" stroke-width="1.2"/>
<rect x="183.80" y="456.09" width="26.50" height="18.51" fill="#858585" stroke="#555" stroke-width="0.6"/>
<line x1="236.50" y1="419.76" x2="236.50" y2="433.23" stroke="#1a1a1a" stroke-width="1.2"/>
<line x1="230.25" y1="419.50" x2="242.85" y2="419.50" stroke="#1a1a1a" stroke-width="1.2"/>
<rect x="223.50" y="432.73" width="26.10" height="41.87" fill="#3b3b3b" stroke="#555" stroke-width="0.6"/>
<line x1="177.50" y1="402.60" x2="177.50" y2="475.20" stroke="#1a1a1a" stroke-width="1.3"/>
<line x1="176.40" y1="474.50" x2="255.40" y2="474.50" stroke="#1a1a1a" stroke-width="1.3"/>
<line x1="173.70" y1="474.50" x2="177.00" y2="474.50" stroke="#1a1a1a" stroke-width="1.0"/>
<text x="170.60" y="477.20" font-size="7.6" fill="#222" class="tk" text-anchor="end">0</text>
<line x1="173.70" y1="457.50" x2="177.00" y2="457.50" stroke="#1a1a1a" stroke-width="1.0"/>
<text x="170.60" y="459.90" font-size="7.6" fill="#222" class="tk" text-anchor="end">5</text>
<line x1="173.70" y1="440.50" x2="177.00" y2="440.50" stroke="#1a1a1a" stroke-width="1.0"/>
<text x="170.60" y="442.60" font-size="7.6" fill="#222" class="tk" text-anchor="end">10</text>
<line x1="173.70" y1="422.50" x2="177.00" y2="422.50" stroke="#1a1a1a" stroke-width="1.0"/>
<text x="170.60" y="425.30" font-size="7.6" fill="#222" class="tk" text-anchor="end">15</text>
<line x1="173.70" y1="405.50" x2="177.00" y2="405.50" stroke="#1a1a1a" stroke-width="1.0"/>
<text x="170.60" y="408.00" font-size="7.6" fill="#222" class="tk" text-anchor="end">20</text>
<line x1="197.50" y1="474.60" x2="197.50" y2="477.60" stroke="#1a1a1a" stroke-width="1.0"/>
<line x1="236.50" y1="474.60" x2="236.50" y2="477.60" stroke="#1a1a1a" stroke-width="1.0"/>
<line x1="188.50" y1="413.50" x2="235.80" y2="413.50" stroke="#1a1a1a" stroke-width="1.2"/>
<circle cx="212.70" cy="407.40" r="1.2" fill="#222"/>
<text x="157.60" y="438.90" font-size="8.6" fill="#222" class="at" text-anchor="middle" textLength="62.8" lengthAdjust="spacingAndGlyphs" transform="rotate(-90 157.60 438.90)">% of CD4+ LPLs</text>
<line x1="70.50" y1="528.30" x2="70.50" y2="535.75" stroke="#1a1a1a" stroke-width="1.2"/>
<line x1="64.30" y1="528.50" x2="76.90" y2="528.50" stroke="#1a1a1a" stroke-width="1.2"/>
<rect x="57.60" y="535.25" width="26.00" height="44.05" fill="#858585" stroke="#555" stroke-width="0.6"/>
<line x1="110.50" y1="536.56" x2="110.50" y2="540.96" stroke="#1a1a1a" stroke-width="1.2"/>
<line x1="103.80" y1="536.50" x2="116.40" y2="536.50" stroke="#1a1a1a" stroke-width="1.2"/>
<rect x="97.40" y="540.46" width="25.40" height="38.84" fill="#3b3b3b" stroke="#555" stroke-width="0.6"/>
<line x1="50.50" y1="507.50" x2="50.50" y2="579.90" stroke="#1a1a1a" stroke-width="1.3"/>
<line x1="50.00" y1="579.50" x2="129.00" y2="579.50" stroke="#1a1a1a" stroke-width="1.3"/>
<line x1="47.30" y1="579.50" x2="50.60" y2="579.50" stroke="#1a1a1a" stroke-width="1.0"/>
<text x="44.20" y="581.90" font-size="7.6" fill="#222" class="tk" text-anchor="end">0</text>
<line x1="47.30" y1="561.50" x2="50.60" y2="561.50" stroke="#1a1a1a" stroke-width="1.0"/>
<text x="44.20" y="564.52" font-size="7.6" fill="#222" class="tk" text-anchor="end">20</text>
<line x1="47.30" y1="544.50" x2="50.60" y2="544.50" stroke="#1a1a1a" stroke-width="1.0"/>
<text x="44.20" y="547.15" font-size="7.6" fill="#222" class="tk" text-anchor="end">40</text>
<line x1="47.30" y1="527.50" x2="50.60" y2="527.50" stroke="#1a1a1a" stroke-width="1.0"/>
<text x="44.20" y="529.77" font-size="7.6" fill="#222" class="tk" text-anchor="end">60</text>
<line x1="47.30" y1="509.50" x2="50.60" y2="509.50" stroke="#1a1a1a" stroke-width="1.0"/>
<text x="44.20" y="512.40" font-size="7.6" fill="#222" class="tk" text-anchor="end">80</text>
<line x1="70.50" y1="579.30" x2="70.50" y2="582.30" stroke="#1a1a1a" stroke-width="1.0"/>
<line x1="109.50" y1="579.30" x2="109.50" y2="582.30" stroke="#1a1a1a" stroke-width="1.0"/>
<text x="30.00" y="543.50" font-size="8.6" fill="#222" class="at" text-anchor="middle" textLength="39.3" lengthAdjust="spacingAndGlyphs" transform="rotate(-90 30.00 543.50)">% of LPLs</text>
<line x1="197.50" y1="540.67" x2="197.50" y2="552.25" stroke="#1a1a1a" stroke-width="1.2"/>
<line x1="190.85" y1="540.50" x2="203.45" y2="540.50" stroke="#1a1a1a" stroke-width="1.2"/>
<rect x="184.30" y="551.75" width="25.70" height="27.45" fill="#858585" stroke="#555" stroke-width="0.6"/>
<line x1="236.50" y1="517.37" x2="236.50" y2="525.72" stroke="#1a1a1a" stroke-width="1.2"/>
<line x1="230.60" y1="517.50" x2="243.20" y2="517.50" stroke="#1a1a1a" stroke-width="1.2"/>
<rect x="223.90" y="525.22" width="26.00" height="53.98" fill="#3b3b3b" stroke="#555" stroke-width="0.6"/>
<line x1="177.50" y1="508.00" x2="177.50" y2="579.80" stroke="#1a1a1a" stroke-width="1.3"/>
<line x1="176.50" y1="579.50" x2="255.50" y2="579.50" stroke="#1a1a1a" stroke-width="1.3"/>
<line x1="173.80" y1="579.50" x2="177.10" y2="579.50" stroke="#1a1a1a" stroke-width="1.0"/>
<text x="170.70" y="581.80" font-size="7.6" fill="#222" class="tk" text-anchor="end">0</text>
<line x1="173.80" y1="556.50" x2="177.10" y2="556.50" stroke="#1a1a1a" stroke-width="1.0"/>
<text x="170.70" y="558.73" font-size="7.6" fill="#222" class="tk" text-anchor="end">1</text>
<line x1="173.80" y1="533.50" x2="177.10" y2="533.50" stroke="#1a1a1a" stroke-width="1.0"/>
<text x="170.70" y="535.66" font-size="7.6" fill="#222" class="tk" text-anchor="end">2</text>
<line x1="173.80" y1="509.50" x2="177.10" y2="509.50" stroke="#1a1a1a" stroke-width="1.0"/>
<text x="170.70" y="512.59" font-size="7.6" fill="#222" class="tk" text-anchor="end">3</text>
<line x1="197.50" y1="579.20" x2="197.50" y2="582.20" stroke="#1a1a1a" stroke-width="1.0"/>
<line x1="236.50" y1="579.20" x2="236.50" y2="582.20" stroke="#1a1a1a" stroke-width="1.0"/>
<line x1="191.00" y1="512.50" x2="238.80" y2="512.50" stroke="#1a1a1a" stroke-width="1.2"/>
<circle cx="215.00" cy="505.20" r="1.2" fill="#222"/>
<text x="162.10" y="543.30" font-size="8.6" fill="#222" class="at" text-anchor="middle" textLength="63.5" lengthAdjust="spacingAndGlyphs" transform="rotate(-90 162.10 543.30)">% of CD4+ LPLs</text>
<text x="22.80" y="392.50" font-size="8.6" fill="#111" font-weight="bold" textLength="35.5" lengthAdjust="spacingAndGlyphs">Day +14</text>
<text x="22.80" y="496.00" font-size="8.6" fill="#111" font-weight="bold" textLength="34.8" lengthAdjust="spacingAndGlyphs">Day +21</text>
<text x="66.3" y="398.6" font-size="7.6" fill="#222" style="stroke-width:0.12px" textLength="42" lengthAdjust="spacingAndGlyphs">CD4<tspan font-size="5" dy="-3">+</tspan><tspan dy="3"> T cells</tspan></text>
<text x="181.6" y="398.7" font-size="7.6" fill="#222" style="stroke-width:0.12px" textLength="65.4" lengthAdjust="spacingAndGlyphs">CD4<tspan font-size="5" dy="-3">+</tspan><tspan dy="3"> FOXP3</tspan><tspan font-size="5" dy="-3">+</tspan><tspan dy="3"> cells</tspan></text>
<text x="70.30" y="588.30" font-size="9.0" fill="#222" text-anchor="end" textLength="46.5" lengthAdjust="spacingAndGlyphs" transform="rotate(-45 70.30 588.30)">BM + T cells</text>
<text x="109.60" y="588.30" font-size="9.0" fill="#222" text-anchor="end" textLength="25.5" lengthAdjust="spacingAndGlyphs" transform="rotate(-45 109.60 588.30)">+ IL-33</text>
<text x="196.70" y="588.30" font-size="9.0" fill="#222" text-anchor="end" textLength="44.3" lengthAdjust="spacingAndGlyphs" transform="rotate(-45 196.70 588.30)">BM + T cells</text>
<text x="236.30" y="588.30" font-size="9.0" fill="#222" text-anchor="end" textLength="25.5" lengthAdjust="spacingAndGlyphs" transform="rotate(-45 236.30 588.30)">+ IL-33</text>
<line x1="353.10" y1="382.50" x2="377.70" y2="382.50" stroke="#1a1a1a" stroke-width="1.4"/>
<circle cx="367.00" cy="382.30" r="2.5" fill="#111"/>
<text x="382.60" y="385.10" font-size="7.6" fill="#222" textLength="27.0" lengthAdjust="spacingAndGlyphs">BM only</text>
<line x1="353.10" y1="394.50" x2="377.70" y2="394.50" stroke="#1a1a1a" stroke-width="1.4"/>
<rect x="364.50" y="391.50" width="5.0" height="5.0" fill="none" stroke="#1a1a1a" stroke-width="1.5"/>
<text x="382.60" y="396.80" font-size="7.6" fill="#222" textLength="41.7" lengthAdjust="spacingAndGlyphs">BM + T cells</text>
<line x1="353.10" y1="405.50" x2="377.70" y2="405.50" stroke="#1a1a1a" stroke-width="1.4"/>
<path d="M363.90,402.56 L370.10,402.56 L367.00,407.83 Z" fill="#111"/>
<text x="382.60" y="408.00" font-size="7.6" fill="#222" textLength="67.7" lengthAdjust="spacingAndGlyphs">BM + T cells + IL-33</text>
<line x1="337.50" y1="426.50" x2="337.50" y2="529.80" stroke="#1a1a1a" stroke-width="1.2"/>
<line x1="336.90" y1="527.50" x2="468.00" y2="527.50" stroke="#1a1a1a" stroke-width="1.2"/>
<line x1="334.10" y1="527.50" x2="337.50" y2="527.50" stroke="#1a1a1a" stroke-width="1.0"/>
<line x1="335.60" y1="514.50" x2="337.50" y2="514.50" stroke="#1a1a1a" stroke-width="1.0"/>
<line x1="334.10" y1="502.50" x2="337.50" y2="502.50" stroke="#1a1a1a" stroke-width="1.0"/>
<line x1="335.60" y1="490.50" x2="337.50" y2="490.50" stroke="#1a1a1a" stroke-width="1.0"/>
<line x1="334.10" y1="478.50" x2="337.50" y2="478.50" stroke="#1a1a1a" stroke-width="1.0"/>
<line x1="335.60" y1="466.50" x2="337.50" y2="466.50" stroke="#1a1a1a" stroke-width="1.0"/>
<line x1="334.10" y1="453.50" x2="337.50" y2="453.50" stroke="#1a1a1a" stroke-width="1.0"/>
<line x1="335.60" y1="441.50" x2="337.50" y2="441.50" stroke="#1a1a1a" stroke-width="1.0"/>
<line x1="334.10" y1="429.50" x2="337.50" y2="429.50" stroke="#1a1a1a" stroke-width="1.0"/>
<line x1="337.50" y1="527.00" x2="337.50" y2="529.80" stroke="#1a1a1a" stroke-width="1.0"/>
<line x1="362.50" y1="527.00" x2="362.50" y2="529.80" stroke="#1a1a1a" stroke-width="1.0"/>
<line x1="388.50" y1="527.00" x2="388.50" y2="529.80" stroke="#1a1a1a" stroke-width="1.0"/>
<line x1="413.50" y1="527.00" x2="413.50" y2="529.80" stroke="#1a1a1a" stroke-width="1.0"/>
<line x1="439.50" y1="527.00" x2="439.50" y2="529.80" stroke="#1a1a1a" stroke-width="1.0"/>
<line x1="465.50" y1="527.00" x2="465.50" y2="529.80" stroke="#1a1a1a" stroke-width="1.0"/>
<text x="330.80" y="529.60" font-size="8.0" fill="#222" class="tk" text-anchor="end">0</text>
<text x="330.80" y="505.20" font-size="8.0" fill="#222" class="tk" text-anchor="end">25</text>
<text x="330.80" y="480.80" font-size="8.0" fill="#222" class="tk" text-anchor="end">50</text>
<text x="330.80" y="456.40" font-size="8.0" fill="#222" class="tk" text-anchor="end">75</text>
<text x="330.80" y="432.00" font-size="8.0" fill="#222" class="tk" text-anchor="end">100</text>
<text x="337.10" y="540.20" font-size="8.0" fill="#222" class="tk" text-anchor="middle">0</text>
<text x="362.70" y="540.20" font-size="8.0" fill="#222" class="tk" text-anchor="middle">20</text>
<text x="388.30" y="540.20" font-size="8.0" fill="#222" class="tk" text-anchor="middle">40</text>
<text x="413.90" y="540.20" font-size="8.0" fill="#222" class="tk" text-anchor="middle">60</text>
<text x="439.50" y="540.20" font-size="8.0" fill="#222" class="tk" text-anchor="middle">80</text>
<text x="465.10" y="540.20" font-size="8.0" fill="#222" class="tk" text-anchor="middle">100</text>
<text x="402.90" y="553.00" font-size="9.3" fill="#222" class="at" text-anchor="middle" textLength="70.3" lengthAdjust="spacingAndGlyphs">Days post-alloHCT</text>
<text x="311.90" y="478.30" font-size="9.3" fill="#222" class="at" text-anchor="middle" textLength="46.8" lengthAdjust="spacingAndGlyphs" transform="rotate(-90 311.90 478.30)">Survival (%)</text>
<path d="M337.5,429.50 L445.9,429.50" stroke="#1a1a1a" stroke-width="1.3" fill="none"/>
<circle cx="445.90" cy="429.40" r="2.6" fill="#111"/>
<path d="M337.50,429.50 L345.50,429.50 L345.50,439.50 L347.50,439.50 L347.50,448.50 L365.50,448.50 L365.50,458.50 L381.50,458.50 L381.50,468.50 L388.50,468.50 L388.50,478.50 L397.50,478.50 L397.50,487.50 L398.50,487.50 L398.50,497.50 L402.50,497.50 L402.50,507.50 L405.50,507.50 L405.50,517.50 L445.90,517.50" stroke="#1a1a1a" stroke-width="1.2" fill="none"/>
<path d="M337.50,429.50 L345.50,429.50 L345.50,439.50 L347.50,439.50 L347.50,458.50 L348.50,458.50 L348.50,468.50 L350.50,468.50 L350.50,497.50 L367.50,497.50 L367.50,507.50 L374.50,507.50 L374.50,517.50 L375.50,517.50 L375.50,527.50" stroke="#1a1a1a" stroke-width="1.2" fill="none"/>
<path d="M342.10,436.44 L348.50,436.44 L345.30,441.88 Z" fill="#111"/>
<path d="M344.00,446.20 L350.40,446.20 L347.20,451.64 Z" fill="#111"/>
<path d="M362.70,455.96 L369.10,455.96 L365.90,461.40 Z" fill="#111"/>
<path d="M377.90,465.72 L384.30,465.72 L381.10,471.16 Z" fill="#111"/>
<path d="M384.90,475.48 L391.30,475.48 L388.10,480.92 Z" fill="#111"/>
<path d="M394.20,485.24 L400.60,485.24 L397.40,490.68 Z" fill="#111"/>
<path d="M395.40,495.00 L401.80,495.00 L398.60,500.44 Z" fill="#111"/>
<path d="M398.90,504.76 L405.30,504.76 L402.10,510.20 Z" fill="#111"/>
<path d="M401.90,514.52 L408.30,514.52 L405.10,519.96 Z" fill="#111"/>
<path d="M442.70,514.52 L449.10,514.52 L445.90,519.96 Z" fill="#111"/>
<rect x="343.50" y="436.50" width="5.0" height="5.0" fill="none" stroke="#1a1a1a" stroke-width="1.3"/>
<rect x="344.50" y="456.50" width="5.0" height="5.0" fill="none" stroke="#1a1a1a" stroke-width="1.3"/>
<rect x="346.50" y="465.50" width="5.0" height="5.0" fill="none" stroke="#1a1a1a" stroke-width="1.3"/>
<rect x="348.50" y="495.50" width="5.0" height="5.0" fill="none" stroke="#1a1a1a" stroke-width="1.3"/>
<rect x="365.50" y="504.50" width="5.0" height="5.0" fill="none" stroke="#1a1a1a" stroke-width="1.3"/>
<rect x="372.50" y="514.50" width="5.0" height="5.0" fill="none" stroke="#1a1a1a" stroke-width="1.3"/>
<rect x="373.50" y="524.50" width="5.0" height="5.0" fill="none" stroke="#1a1a1a" stroke-width="1.3"/>
<rect x="298.00" y="561.40" width="215.10" height="59.60" fill="none" stroke="#222" stroke-width="1.3"/>
<line x1="298.00" y1="576.50" x2="513.10" y2="576.50" stroke="#222" stroke-width="1.3"/>
<line x1="298.00" y1="591.50" x2="513.10" y2="591.50" stroke="#222" stroke-width="1.3"/>
<line x1="298.00" y1="606.50" x2="513.10" y2="606.50" stroke="#222" stroke-width="1.3"/>
<line x1="435.50" y1="561.40" x2="435.50" y2="621.00" stroke="#222" stroke-width="1.3"/>
<line x1="477.50" y1="561.40" x2="477.50" y2="621.00" stroke="#222" stroke-width="1.3"/>
<text x="368.00" y="572.20" font-size="7.4" fill="#222" text-anchor="middle" font-weight="bold" textLength="31.7" lengthAdjust="spacingAndGlyphs">Analysis</text>
<text x="456.60" y="572.20" font-size="7.4" text-anchor="middle" font-weight="bold" fill="#222" textLength="25.4" lengthAdjust="spacingAndGlyphs"><tspan font-style="italic">P</tspan> value</text>
<text x="495.20" y="572.20" font-size="7.4" fill="#222" text-anchor="middle" font-weight="bold" textLength="22.8" lengthAdjust="spacingAndGlyphs">Signif.</text>
<text x="368.00" y="586.60" font-size="7.4" fill="#222" text-anchor="middle" textLength="78.8" lengthAdjust="spacingAndGlyphs" style="stroke-width:0.06px">BM only vs. BM+T cells</text>
<text x="456.60" y="586.60" font-size="7.4" fill="#222" text-anchor="middle" textLength="18.2" lengthAdjust="spacingAndGlyphs" style="stroke-width:0.06px">.0005</text>
<circle cx="491.10" cy="581.10" r="1.1" fill="#1a1a1a"/>
<circle cx="495.00" cy="581.10" r="1.1" fill="#1a1a1a"/>
<circle cx="498.90" cy="581.10" r="1.1" fill="#1a1a1a"/>
<text x="368.00" y="601.70" font-size="7.4" fill="#222" text-anchor="middle" textLength="105.8" lengthAdjust="spacingAndGlyphs" style="stroke-width:0.06px">BM only vs. BM+T cells + IL-33</text>
<text x="456.60" y="601.70" font-size="7.4" fill="#222" text-anchor="middle" textLength="18.2" lengthAdjust="spacingAndGlyphs" style="stroke-width:0.06px">.0028</text>
<circle cx="493.05" cy="596.20" r="1.1" fill="#1a1a1a"/>
<circle cx="496.95" cy="596.20" r="1.1" fill="#1a1a1a"/>
<text x="368.00" y="616.50" font-size="7.4" fill="#222" text-anchor="middle" textLength="115.0" lengthAdjust="spacingAndGlyphs" style="stroke-width:0.06px">BM+T cells vs. BM+T cells + IL-33</text>
<text x="456.60" y="616.50" font-size="7.4" fill="#222" text-anchor="middle" textLength="18.2" lengthAdjust="spacingAndGlyphs" style="stroke-width:0.06px">.0036</text>
<circle cx="493.05" cy="611.00" r="1.1" fill="#1a1a1a"/>
<circle cx="496.95" cy="611.00" r="1.1" fill="#1a1a1a"/>
</svg>
</body></html>
